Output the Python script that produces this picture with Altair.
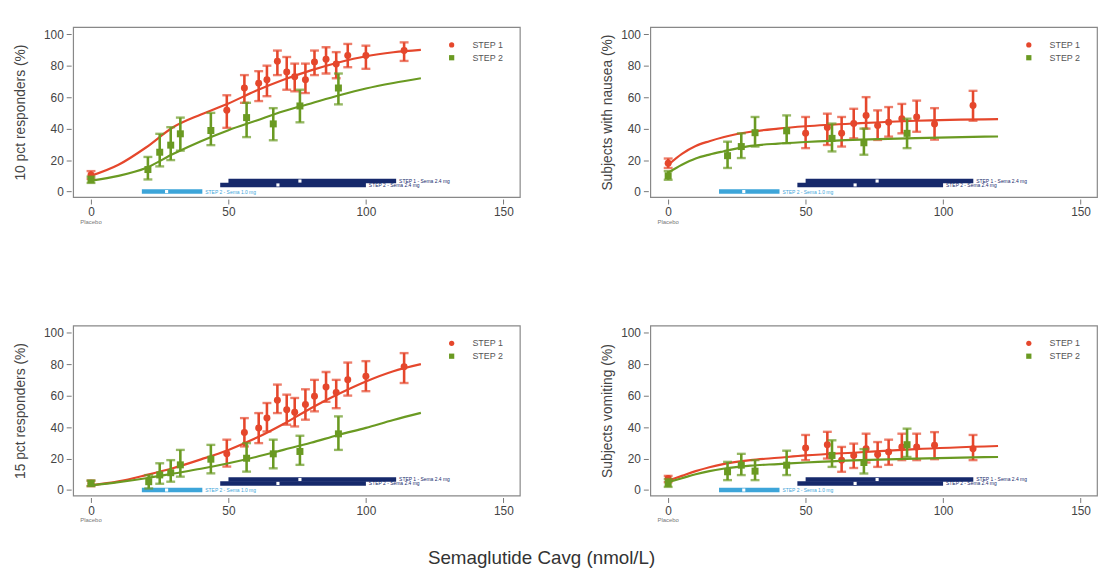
import altair as alt
import pandas as pd

STUDIES = ["STEP 1", "STEP 2"]
COLORS = ["#e5472c", "#6a9a22"]
SHAPES = ["circle", "square"]

# ---------- Panel A: 10 pct responders ----------
a1_x = [0, 49.4, 55.8, 61, 64, 67.8, 71.2, 74.1, 78, 81.3, 85.5, 89.2, 93.4, 100, 113.9]
a1_y = [10.5, 51.7, 65.8, 68.9, 71, 82.8, 76, 73, 71, 82.4, 84, 81, 86.5, 86.5, 89.6]
a1_lo = [8, 40.5, 56.4, 57.5, 60.6, 74, 64.7, 63.7, 62.6, 74, 75, 72, 79, 78, 83]
a1_hi = [13, 61.2, 74, 76.5, 80, 89.6, 85.5, 81.3, 81.3, 89.6, 91.7, 88.6, 93.8, 92.7, 94.8]
a2_x = [0, 20.7, 25, 29, 32.5, 43.6, 56.6, 66.3, 76, 90]
a2_y = [7.5, 14, 25, 29.5, 36.7, 38.8, 47, 43, 54.4, 65.8]
a2_lo = [5.5, 7.7, 16, 20, 26, 29.5, 34.6, 32.6, 44, 55.4]
a2_hi = [9.5, 22, 36.7, 40.9, 47, 50, 56.4, 53, 64.7, 75]
a_cx = [0, 10, 20, 30, 40, 50, 60, 70, 80, 90, 100, 110, 120]
a_c1 = [10, 17, 28, 41, 49, 56, 64, 71, 77, 82, 86, 88.5, 90]
a_c2 = [7, 10, 15, 24, 32, 39, 45, 51, 56, 61, 65.5, 69, 72]

# ---------- Panel B: nausea ----------
b1_x = [0, 50, 57.9, 63.1, 67.5, 72, 76.2, 80.2, 85, 90.4, 96.9, 110.9]
b1_y = [18, 37, 40.7, 37, 43.2, 48.4, 42, 44, 46.3, 47.4, 43, 54.7]
b1_lo = [15, 27.6, 29.6, 28.6, 33.8, 40, 32.8, 34.9, 37, 38, 33, 45]
b1_hi = [21, 47.4, 49.5, 47.4, 52.6, 60, 51.6, 53.7, 55.7, 57.8, 53, 64]
b2_x = [0, 21.6, 26.6, 31.6, 43.1, 59.6, 71.2, 86.9]
b2_y = [10, 22.8, 28.6, 37.4, 38.6, 33.8, 31, 37]
b2_lo = [7.5, 15, 21.3, 28.6, 30.7, 25.5, 23.4, 27.6]
b2_hi = [13, 31.7, 37, 47.4, 48.4, 43.2, 40, 46.3]
b_cx = [0, 5, 10, 15, 20, 30, 40, 50, 70, 90, 120]
b_c1 = [17, 24, 29, 32, 34.5, 38, 40, 41.5, 43.5, 45, 46]
b_c2 = [12, 17, 21, 23.5, 25.5, 29, 30.5, 31.5, 33, 34, 35]

# ---------- Panel C: 15 pct responders ----------
c1_x = [0, 49.4, 55.8, 61, 64, 67.8, 71.2, 74.1, 78, 81.3, 85.5, 89.2, 93.4, 100, 113.9]
c1_y = [4.3, 23, 36.6, 39.4, 45.7, 57, 51, 49.4, 54.3, 59.6, 65.5, 62, 70, 72.3, 78.3]
c1_lo = [2.5, 14.9, 27.7, 29.8, 37.2, 48.9, 41.5, 40.4, 44.7, 50, 56, 52, 60, 62.8, 68]
c1_hi = [6, 32, 45.7, 48.9, 55.3, 67, 60.6, 58.5, 64, 70, 75, 70, 81, 81.9, 87]
c2_x = [0, 21, 25, 29, 32.5, 43.6, 56.6, 66.3, 76, 90]
c2_y = [4.3, 5.3, 9.6, 11, 16, 19.6, 20.2, 23, 24.5, 35.7]
c2_lo = [2.5, 1, 4, 5.3, 8.5, 10.6, 11.7, 13.8, 16, 25.5]
c2_hi = [6, 9.5, 17, 19, 25.5, 28.7, 29.8, 32, 34.5, 46.8]
c_cx = [0, 10, 20, 30, 40, 50, 60, 70, 80, 90, 100, 110, 120]
c_c1 = [3, 5.5, 9.5, 14, 19.5, 25.5, 33, 42, 52, 61, 69, 75.5, 80]
c_c2 = [3, 5, 7.5, 10.5, 13.5, 17, 21, 25.5, 30, 35, 39.5, 44.5, 49]

# ---------- Panel D: vomiting ----------
d1_x = [0, 50, 57.9, 63.1, 67.5, 72, 76.2, 80.2, 85, 90.4, 96.9, 110.9]
d1_y = [7.4, 26.7, 28.8, 19, 22, 26.3, 22.6, 24.2, 27.4, 27.4, 28.4, 26.3]
d1_lo = [5, 19, 20, 11.6, 14, 17.5, 14.7, 16, 19, 19, 19.6, 19]
d1_hi = [9, 35, 37, 27.4, 29.5, 35.8, 30.5, 32, 35.8, 35.8, 36.8, 35]
d2_x = [0, 21.6, 26.6, 31.6, 43.1, 59.6, 71.2, 86.9]
d2_y = [4.2, 11.6, 15.8, 12, 15.8, 22, 17.5, 28.8]
d2_lo = [2, 6.3, 9.5, 6.3, 9.5, 14.7, 10.5, 21]
d2_hi = [7, 17.9, 23, 19, 25, 31.6, 26, 39]
d_cx = [0, 5, 10, 15, 20, 30, 40, 50, 70, 90, 120]
d_c1 = [6, 9, 12, 14.5, 16.5, 19, 20.5, 22, 24, 26, 28]
d_c2 = [5, 7.5, 10, 12, 13.5, 15.5, 16.5, 17.5, 19, 20, 21]

# ---------- exposure ranges (same in every panel) ----------
rng_label = ["STEP 1 - Sema 2.4 mg", "STEP 2 - Sema 2.4 mg", "STEP 2 - Sema 1.0 mg"]
rng_lo = [50, 47, 18.5]
rng_hi = [111, 100, 40.5]
rng_med = [76, 68, 27.5]
rng_y = [6.7, 4.2, 0]
rng_color = ["#16296b", "#16296b", "#3da5d9"]

X_TICKS = [0, 50, 100, 150]
Y_TICKS = [0, 20, 40, 60, 80, 100]

W, H = 452, 172
XDOM = [-6.5, 156]
YDOM = [-3.5, 104.5]
FONT = "Liberation Sans"

xs = alt.Scale(domain=XDOM, nice=False, zero=False)
ys = alt.Scale(domain=YDOM, nice=False, zero=False)
cscale = alt.Scale(domain=STUDIES, range=COLORS)
sscale = alt.Scale(domain=STUDIES, range=SHAPES)
legscale = alt.Scale(domain=STUDIES, range=[18, 31], padding=0)


def panel(p1, p2, cx, c1, c2, ytitle, tpad):
    xaxis = alt.Axis(values=X_TICKS, title=None)
    yaxis = alt.Axis(values=Y_TICKS, title=ytitle, titlePadding=tpad, labelOverlap=False)

    def X(f):
        return alt.X(f, type="quantitative", scale=xs, axis=xaxis)

    def Y(f):
        return alt.Y(f, type="quantitative", scale=ys, axis=yaxis)

    rng = pd.DataFrame({"label": rng_label, "lo": rng_lo, "hi": rng_hi,
                        "med": rng_med, "y": rng_y, "color": rng_color})
    layers = []
    layers.append(alt.Chart(rng).mark_rule(strokeWidth=4.5).encode(
        x=X("lo"), x2="hi", y=Y("y"),
        color=alt.Color("color:N", scale=None, legend=None)))
    layers.append(alt.Chart(rng).mark_point(filled=True, size=10, shape="square",
                                            color="white", opacity=1).encode(
        x=X("med"), y=Y("y")))
    layers.append(alt.Chart(rng).mark_text(align="left", baseline="middle", dx=3, fontSize=5,
                                           font=FONT).encode(
        x=X("hi"), y=Y("y"), text="label:N",
        color=alt.Color("color:N", scale=None, legend=None)))

    for (cy, (xx, yy, lo, hi), col, shp) in ((c1, p1, COLORS[0], "circle"),
                                              (c2, p2, COLORS[1], "square")):
        cur = pd.DataFrame({"x": cx, "y": cy})
        d = pd.DataFrame({"x": xx, "y": yy, "lo": lo, "hi": hi})
        layers.append(alt.Chart(cur).mark_line(strokeWidth=2.2, interpolate="monotone",
                                               color=col).encode(x=X("x"), y=Y("y")))
        layers.append(alt.Chart(d).mark_rule(strokeWidth=2.6, color=col).encode(
            x=X("x"), y=Y("lo"), y2="hi"))
        layers.append(alt.Chart(d).mark_tick(orient="horizontal", size=9, thickness=2.4,
                                             color=col).encode(x=X("x"), y=Y("lo")))
        layers.append(alt.Chart(d).mark_tick(orient="horizontal", size=9, thickness=2.4,
                                             color=col).encode(x=X("x"), y=Y("hi")))
        layers.append(alt.Chart(d).mark_point(filled=True, size=50, opacity=1, shape=shp,
                                              color=col).encode(x=X("x"), y=Y("y")))

    layers.append(alt.Chart(pd.DataFrame({"x": [0], "t": ["Placebo"]})).mark_text(
        fontSize=6, color="#777", baseline="top", font=FONT).encode(
        x=X("x"), y=alt.value(H + 22), text="t:N"))

    main = alt.layer(*layers)

    # in-panel legend
    leg = pd.DataFrame({"study": STUDIES})
    leg_pts = alt.Chart(leg).mark_point(filled=True, size=28, opacity=1).encode(
        x=alt.value(383),
        y=alt.Y("study:N", scale=legscale, axis=None),
        color=alt.Color("study:N", scale=cscale, legend=None),
        shape=alt.Shape("study:N", scale=sscale, legend=None))
    leg_txt = alt.Chart(leg).mark_text(align="left", baseline="middle", fontSize=9,
                                       color="#555", font=FONT).encode(
        x=alt.value(404),
        y=alt.Y("study:N", scale=legscale, axis=None),
        text="study:N")
    legend = alt.layer(leg_pts, leg_txt)

    return alt.layer(main, legend).resolve_scale(y="independent").properties(
        width=W, height=H)


A = panel((a1_x, a1_y, a1_lo, a1_hi), (a2_x, a2_y, a2_lo, a2_hi), a_cx, a_c1, a_c2,
          "10 pct responders (%)", 16)
B = panel((b1_x, b1_y, b1_lo, b1_hi), (b2_x, b2_y, b2_lo, b2_hi), b_cx, b_c1, b_c2,
          "Subjects with nausea (%)", 6)
C = panel((c1_x, c1_y, c1_lo, c1_hi), (c2_x, c2_y, c2_lo, c2_hi), c_cx, c_c1, c_c2,
          "15 pct responders (%)", 16)
D = panel((d1_x, d1_y, d1_lo, d1_hi), (d2_x, d2_y, d2_lo, d2_hi), d_cx, d_c1, d_c2,
          "Subjects vomiting (%)", 6)

chart = alt.concat(A, B, C, D, columns=2, spacing={"row": 130, "column": 132},
                   bounds="flush").properties(
    title=alt.TitleParams("Semaglutide Cavg (nmol/L)", orient="bottom", anchor="middle",
                          fontSize=19, fontWeight="normal", color="#333", font=FONT,
                          dx=-14, offset=26),
    padding={"left": 13, "top": 23, "right": 0, "bottom": 5},
).configure_view(stroke="#888", strokeWidth=1.2).configure_axis(
    grid=False, domain=False, ticks=True, tickSize=5, tickColor="#777", offset=2,
    labelFont=FONT, labelFontSize=12, labelColor="#444", labelPadding=3, labelOverlap=False,
    titleFont=FONT, titleFontSize=14, titleFontWeight="normal", titleColor="#444",
).configure_axisY(labelAlign="right")

chart.save("out.html", embed_options={"renderer": "svg", "actions": False})
